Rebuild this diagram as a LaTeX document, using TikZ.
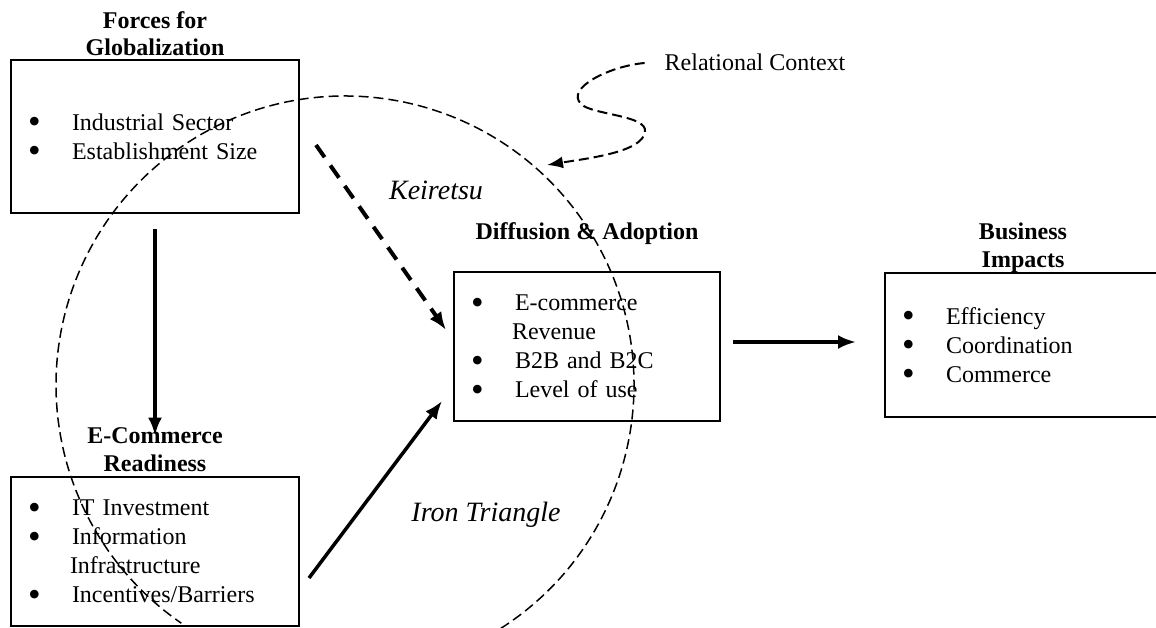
\documentclass[tikz,border=0pt]{standalone}
\usepackage{fontspec}
\setmainfont{Liberation Serif}
\usetikzlibrary{shapes,arrows.meta}

\newcommand{\bitem}[1]{\makebox[22pt][l]{\smash{\raisebox{-1.8pt}{\scalebox{1.5}{\textbullet}}}}#1}

\begin{document}
\begin{tikzpicture}[x=0.5pt,y=-0.5pt,
    itembox/.style={draw,rectangle,line width=1pt,inner xsep=8.5pt,align=left,
      font=\fontsize{12}{14.5}\selectfont},
    boxtitle/.style={align=center,font=\fontsize{12}{13.8}\selectfont\bfseries},
    tag/.style={font=\fontsize{14}{16}\selectfont\itshape},
    lens/.style={line width=0.75pt,dash pattern=on 5pt off 2.5pt},
    bolddash/.style={line width=2pt,dash pattern=on 7.5pt off 5pt,-{Latex[length=9pt,width=7pt]}},
    boldline/.style={line width=1.75pt,-{Latex[length=9pt,width=7pt]}}]
        \path[use as bounding box,clip] (0,0) rectangle (1156,627);

        \node[itembox,text width=127pt,minimum height=76.5pt] (forces) at (155,136.5)
          {\bitem{Industrial Sector}\\ \bitem{Establishment Size}};
        \node[itembox,text width=127pt,minimum height=74.5pt] (ready) at (155,551.5)
          {\bitem{IT Investment}\\ \bitem{Information}\\ \makebox[21pt][l]{}Infrastructure\\ \bitem{Incentives/Barriers}};
        \node[itembox,text width=116pt,minimum height=74.5pt] (diffusion) at (587,346.5)
          {\bitem{E-commerce}\\ \makebox[20.5pt][l]{}Revenue\\ \bitem{B2B and B2C}\\ \bitem{Level of use}};
        \node[itembox,text width=121pt,minimum height=72pt] (impacts) at (1023,345)
          {\bitem{Efficiency}\\ \bitem{Coordination}\\ \bitem{Commerce}};

        \node[boxtitle] (forcesT) at (155,33.5) {Forces for\\Globalization};
        \node[boxtitle] (readyT) at (155,449.5) {E-Commerce\\Readiness};
        \node[boxtitle] (diffT) at (587,234) {Diffusion \& Adoption};
        \node[boxtitle] (impactsT) at (1023,248) {Business\\Impacts};

        \node[tag] (keiretsu) at (436,190) {Keiretsu};
        \node[tag] (iron) at (486,515) {Iron Triangle};
        \node[font=\fontsize{12}{14.5}\selectfont] (rel) at (755,62) {Relational Context};

        \coordinate (ctr) at (345,385);
        \coordinate (ctxtip) at (547,165);

        \draw[lens] ([shift={(-57.4:144.5pt)}]ctr) arc[start angle=-57.4,end angle=235.5,radius=144.5pt];
        \draw[lens,line width=1pt,-{Latex[length=8pt,width=6pt]}] ([shift={(-13,1)}]rel.west)
          .. controls (610,66) and (565,88) .. (581,104)
          .. controls (592,115) and (648,115) .. (645,132)
          .. controls (642,152) and (590,158) .. (ctxtip);

        \draw[boldline,line width=2pt,shorten <=7.5pt,shorten >=-7.5pt] (forces) -- (readyT);
        \draw[bolddash] ([shift={(16,8.5)}]forces.east) -- ([shift={(-7,-16.5)}]diffusion.west);
        \draw[boldline] ([shift={(9,26.5)}]ready.east) -- ([shift={(-11,-21)}]diffusion.south west);
        \draw[boldline] ([shift={(12,-4.5)}]diffusion.east) -- ([shift={(-28,-3)}]impacts.west);
      \end{tikzpicture}
\end{document}
